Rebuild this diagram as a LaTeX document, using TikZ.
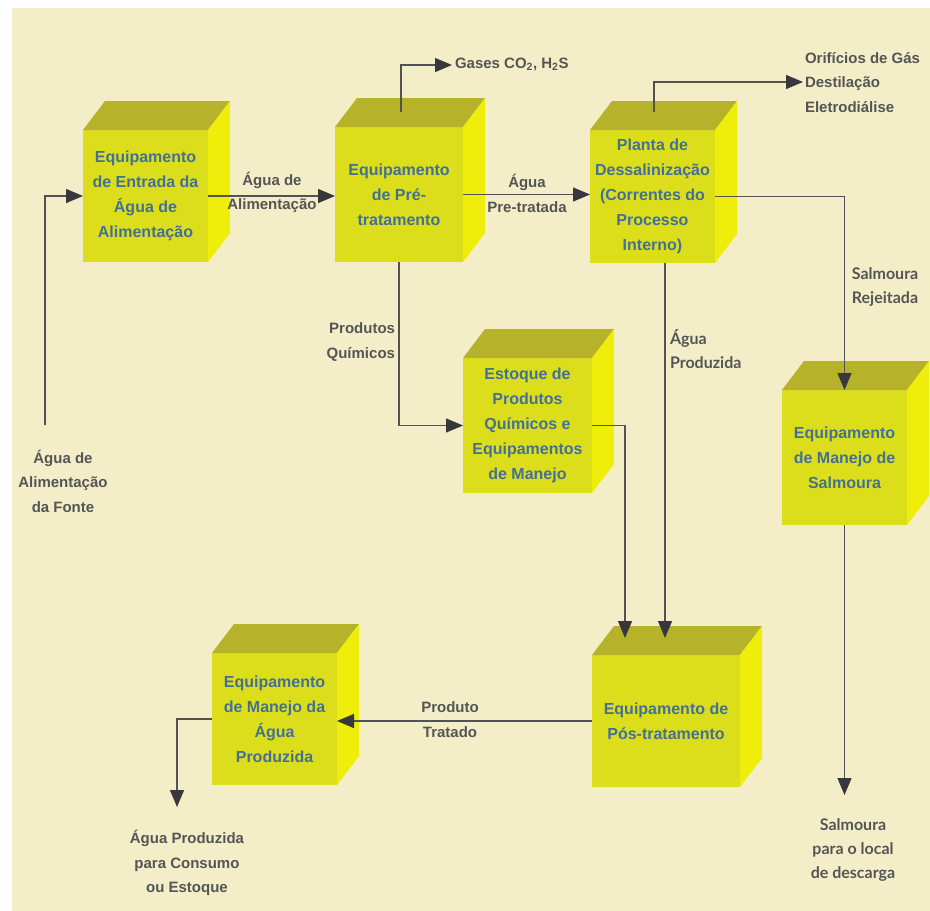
\documentclass[tikz,border=0pt]{standalone}
\usepackage{fontspec}
\setmainfont{Liberation Sans}
\newfontfamily\latof{Lato}
\usetikzlibrary{arrows.meta}
\definecolor{bgc}{RGB}{243,237,200}
\definecolor{frontc}{RGB}{220,222,28}
\definecolor{sidec}{RGB}{238,238,10}
\definecolor{topc}{RGB}{182,178,42}
\definecolor{boxtxt}{RGB}{66,112,152}
\definecolor{lblc}{RGB}{85,85,85}
\definecolor{linec}{RGB}{82,82,82}
\definecolor{arrc}{RGB}{55,55,60}
\tikzset{
  cubefront/.style={fill=frontc, inner sep=0pt, outer sep=0pt, align=center,
    text=boxtxt, font=\fontsize{16}{25}\selectfont\bfseries},
  cubetop/.style={fill=topc},
  cubeside/.style={fill=sidec},
  conn/.style={draw=linec, line width=1.3pt,
    -{Triangle[length=17pt,width=14pt,color=arrc]}},
  lbl/.style={text=lblc, inner sep=0pt, outer sep=0pt,
    font=\fontsize{15}{24.5}\selectfont\bfseries},
  lblh/.style={text=lblc, inner sep=0pt, outer sep=0pt,
    font=\latof\fontsize{16}{24}\selectfont\bfseries}
}
\newcommand\mycube[6]{%
  \node[cubefront, minimum width=#4pt, minimum height=#5pt, anchor=north west] (#1) at (#2,#3) {#6};
  \fill[cubetop] (#1.north west) -- ++(22,-29) -- ++(#4,0) -- (#1.north east) -- cycle;
  \fill[cubeside] (#1.north east) -- ++(22,-29) -- ++(0,#5) -- (#1.south east) -- cycle;
}
\begin{document}
\begin{tikzpicture}[x=1pt,y=-1pt]
\useasboundingbox (0,0) rectangle (930,911);
\fill[white] (0,0) rectangle (930,911);
\fill[bgc] (12,8) rectangle (930,911);

\mycube{b1}{83}{130}{125}{132}{Equipamento\\de Entrada da\\Água de\\Alimentação}
\mycube{b2}{335}{127}{128}{135}{Equipamento\\de Pré-\\tratamento}
\mycube{b3}{590}{130}{125}{133}{Planta de\\Dessalinização\\(Correntes do\\Processo\\Interno)}
\mycube{b4}{463}{358}{129}{135}{Estoque de\\Produtos\\Químicos e\\Equipamentos\\de Manejo}
\mycube{b5}{782}{390}{125}{135}{Equipamento\\de Manejo de\\Salmoura}
\mycube{b6}{592}{655}{148}{132}{Equipamento de\\Pós-tratamento}
\mycube{b7}{212}{653}{125}{132}{Equipamento\\de Manejo da\\Água\\Produzida}

% coordinates
\coordinate (src) at (45,425);
\coordinate (g0) at (401,112);
\coordinate (g1) at (452,65);
\coordinate (o0) at (654,112);
\coordinate (o1) at (803,82);
\coordinate (p6a) at (625,638);
\coordinate (p6b) at (665,638);
\coordinate (out7) at (177,807);
\coordinate (out5) at (845,795);

% connectors
\draw[conn] (src) |- (b1.west);
\draw[conn] (b1.east) -- (b1.east -| b2.west);
\draw[conn] (b2.east) -- (b2.east -| b3.west);
\draw[conn] (g0) |- (g1);
\draw[conn] (o0) |- (o1);
\draw[conn] (b3.east) -| (b5.north);
\draw[conn] (b3.south -| p6b) -- (p6b);
\draw[conn] (b2.south) |- (b4.west);
\draw[conn] (b4.east) -| (p6a);
\draw[conn] (b6.west) -- (b6.west -| b7.east);
\draw[conn] (b7.west) -| (out7);
\draw[conn] (b5.south) -- (b5.south |- out5);

% labels
\node[lbl, align=center] (lsrc) at (63,481) {Água de\\Alimentação\\da Fonte};
\node[lbl, align=center] (l12) at (272,192.5) {Água de\\Alimentação};
\node[lbl, align=center] (l23) at (527,193.5) {Água\\Pre-tratada};
\node[lbl, anchor=west] (lgas) at (455,64) {Gases CO\textsubscript{2}, H\textsubscript{2}S};
\node[lbl, align=left, anchor=west] (lorif) at (805,82.5) {Orifícios de Gás\\Destilação\\Eletrodiálise};
\node[lblh, align=center] (lrej) at (885,287) {Salmoura\\Rejeitada};
\node[lbl, align=right, anchor=east] (lprod) at (395,342) {Produtos\\Químicos};
\node[lblh, align=left, anchor=west] (lagua) at (670,349) {Água\\Produzida};
\node[lbl, align=center] (ltrat) at (450,719.5) {Produto\\Tratado};
\node[lbl, align=center] (lout7) at (187,863) {Água Produzida\\para Consumo\\ou Estoque};
\node[lblh, align=center] (lout5) at (853,850) {Salmoura\\para o local\\de descarga};
\end{tikzpicture}
\end{document}
